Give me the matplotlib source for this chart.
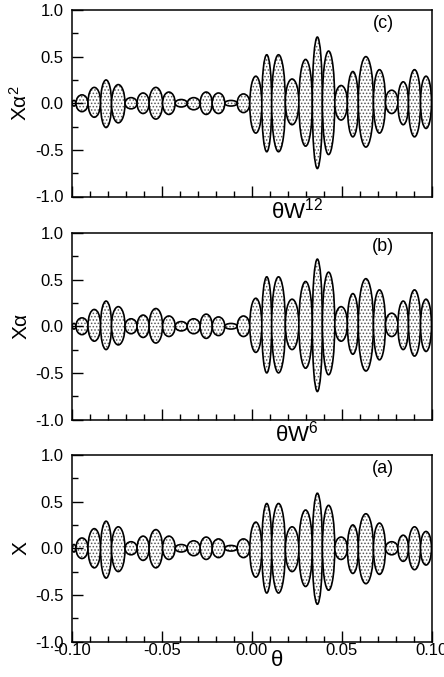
import numpy as np
import matplotlib
matplotlib.use("Agg")
import matplotlib.pyplot as plt
from matplotlib.patches import Ellipse
from matplotlib.ticker import MultipleLocator

plt.rcParams['font.family'] = ['Liberation Sans', 'DejaVu Sans']
plt.rcParams['mathtext.fontset'] = 'custom'
plt.rcParams['mathtext.rm'] = 'Liberation Sans'
plt.rcParams['mathtext.it'] = 'Liberation Sans'
plt.rcParams['mathtext.bf'] = 'Liberation Sans:bold'
plt.rcParams['hatch.linewidth'] = 0.7

# pinch points between neighbouring lobes (theta), shared by all panels
pinches = [-0.1000, -0.0978, -0.0911, -0.0841, -0.0780, -0.0705, -0.0638,
           -0.0571, -0.0496, -0.0426, -0.0359, -0.0287, -0.0220, -0.0150,
           -0.0081, -0.0011, 0.0056, 0.0111, 0.0187, 0.0262, 0.0337,
           0.0393, 0.0462, 0.0532, 0.0593, 0.0677, 0.0744, 0.0813,
           0.0872, 0.0939, 0.1000]

# upper / lower envelope of each lobe
a_top = [0.04, 0.11, 0.21, 0.29, 0.23, 0.07, 0.13, 0.20, 0.13, 0.04,
         0.08, 0.12, 0.10, 0.03, 0.10, 0.28, 0.48, 0.48, 0.23, 0.41,
         0.59, 0.46, 0.12, 0.25, 0.37, 0.27, 0.07, 0.14, 0.23, 0.18]
a_bot = [0.04, 0.11, 0.21, 0.32, 0.25, 0.07, 0.13, 0.21, 0.12, 0.04,
         0.08, 0.12, 0.10, 0.03, 0.10, 0.31, 0.48, 0.48, 0.25, 0.41,
         0.60, 0.45, 0.12, 0.27, 0.38, 0.28, 0.07, 0.14, 0.23, 0.18]

b_top = [0.03, 0.09, 0.18, 0.27, 0.21, 0.08, 0.12, 0.19, 0.11, 0.05,
         0.08, 0.13, 0.10, 0.03, 0.11, 0.30, 0.53, 0.53, 0.29, 0.48,
         0.72, 0.58, 0.21, 0.35, 0.51, 0.39, 0.14, 0.27, 0.39, 0.29]
b_bot = [0.03, 0.09, 0.16, 0.25, 0.20, 0.08, 0.12, 0.18, 0.11, 0.05,
         0.08, 0.13, 0.10, 0.03, 0.11, 0.28, 0.50, 0.50, 0.25, 0.45,
         0.70, 0.52, 0.16, 0.30, 0.48, 0.36, 0.11, 0.25, 0.32, 0.27]

c_top = [0.03, 0.09, 0.17, 0.25, 0.20, 0.06, 0.11, 0.17, 0.12, 0.04,
         0.06, 0.12, 0.11, 0.03, 0.10, 0.29, 0.52, 0.52, 0.26, 0.47,
         0.71, 0.56, 0.19, 0.34, 0.50, 0.36, 0.14, 0.23, 0.36, 0.29]
c_bot = [0.03, 0.09, 0.15, 0.26, 0.21, 0.06, 0.11, 0.17, 0.12, 0.04,
         0.07, 0.12, 0.11, 0.03, 0.10, 0.32, 0.52, 0.52, 0.23, 0.46,
         0.70, 0.55, 0.18, 0.36, 0.47, 0.32, 0.11, 0.23, 0.36, 0.27]

panels = [
    (c_top, c_bot, r'X$\alpha^2$', r'$\theta$W$^{12}$', '(c)'),
    (b_top, b_bot, r'X$\alpha$', r'$\theta$W$^{6}$', '(b)'),
    (a_top, a_bot, 'X', r'$\theta$', '(a)'),
]

fig = plt.figure(figsize=(4.44, 6.77), dpi=100)
W, H = 444, 677
left, right = 72, 431.5
tops = [10, 233, 455]
ph = 186.5

for i, (top, bot, ylab, xlab, tag) in enumerate(panels):
    ax = fig.add_axes([left / W, 1 - (tops[i] + ph) / H, (right - left) / W, ph / H])
    for k in range(len(top)):
        x0, x1 = pinches[k], pinches[k + 1]
        xc = (x0 + x1) / 2
        yc = (top[k] - bot[k]) / 2
        h = top[k] + bot[k]
        ax.add_patch(Ellipse((xc, yc), x1 - x0, h, facecolor='white',
                             edgecolor='0.35', hatch='.....', lw=0))
        ax.add_patch(Ellipse((xc, yc), x1 - x0, h, fill=False,
                             edgecolor='black', lw=1.2))
    ax.set_xlim(-0.10, 0.10)
    ax.set_ylim(-1.0, 1.0)
    ax.xaxis.set_major_locator(MultipleLocator(0.05))
    ax.xaxis.set_minor_locator(MultipleLocator(0.01))
    ax.yaxis.set_major_locator(MultipleLocator(0.5))
    ax.yaxis.set_minor_locator(MultipleLocator(0.25))
    ax.tick_params(which='both', direction='in', top=False, right=False,
                   labelsize=12, width=1)
    ax.tick_params(which='major', length=8)
    ax.tick_params(which='minor', length=4)
    ax.tick_params(axis='y', pad=6)
    ax.tick_params(axis='x', pad=1)
    ax.yaxis.set_major_formatter(plt.FuncFormatter(lambda v, p: f'{v:.1f}'))
    if i < 2:
        ax.set_xticklabels([])
    else:
        ax.xaxis.set_major_formatter(plt.FuncFormatter(lambda v, p: f'{v:.2f}'))
    for s in ax.spines.values():
        s.set_linewidth(1.1)
    ax.set_ylabel(ylab, fontsize=15, labelpad=3)
    xlab_x = 0.57 if i == 2 else 0.625
    xlab_y = -0.045 if i == 2 else -0.005
    ax.text(xlab_x, xlab_y, xlab, transform=ax.transAxes, fontsize=16,
            ha='center', va='top')
    ax.text(0.865, 0.93, tag, transform=ax.transAxes, fontsize=13,
            ha='center', va='center')

fig.savefig('out.png', dpi=100)
